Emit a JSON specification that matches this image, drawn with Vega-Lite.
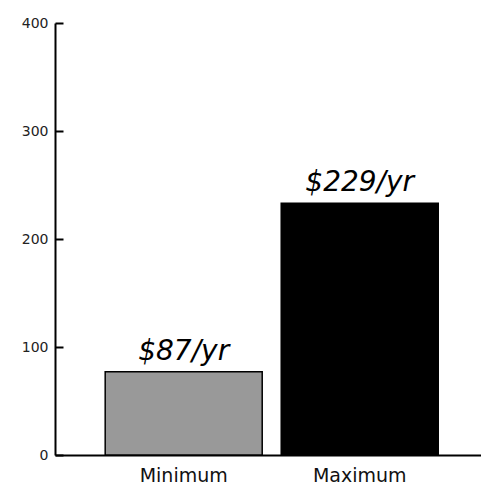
{
  "$schema": "https://vega.github.io/schema/vega-lite/v6.json",
  "autosize": "none",
  "width": 426,
  "height": 432,
  "padding": {"left": 55, "top": 23, "right": 0, "bottom": 38},
  "background": "white",
  "config": {"view": {"stroke": null}},
  "data": {"values": [
    {"level": "Minimum", "cost": 77, "label": "$87/yr"},
    {"level": "Maximum", "cost": 233, "label": "$229/yr"}
  ]},
  "encoding": {
    "x": {
      "field": "level", "type": "nominal", "sort": ["Minimum", "Maximum"],
      "scale": {"paddingInner": 0.108, "paddingOuter": 0.264, "align": 0.54},
      "axis": {"title": null, "labelAngle": 0, "ticks": false, "domainColor": "black", "domainWidth": 2,
               "labelFont": "DejaVu Sans", "labelFontSize": 19, "labelColor": "#111", "labelPadding": 11}
    }
  },
  "layer": [
    {
      "mark": {"type": "bar", "stroke": "black", "strokeWidth": 1.5},
      "encoding": {
        "y": {
          "field": "cost", "type": "quantitative",
          "scale": {"domain": [0, 400], "nice": false},
          "axis": {"title": null, "orient": "left", "values": [0, 100, 200, 300, 400], "grid": false, "domainColor": "black", "domainWidth": 2,
                   "ticks": true, "tickSize": -8, "tickColor": "black", "tickWidth": 2, "labelPadding": 15,
                   "labelFont": "DejaVu Sans", "labelFontSize": 14, "labelColor": "#222"}
        },
        "color": {"field": "level", "type": "nominal", "scale": {"domain": ["Minimum", "Maximum"], "range": ["#999999", "#000000"]}, "legend": null}
      }
    },
    {
      "mark": {"type": "text", "baseline": "alphabetic", "dy": -12, "font": "DejaVu Sans", "fontStyle": "italic", "fontSize": 28, "color": "black"},
      "encoding": {
        "y": {"field": "cost", "type": "quantitative"},
        "text": {"field": "label"}
      }
    }
  ]
}
